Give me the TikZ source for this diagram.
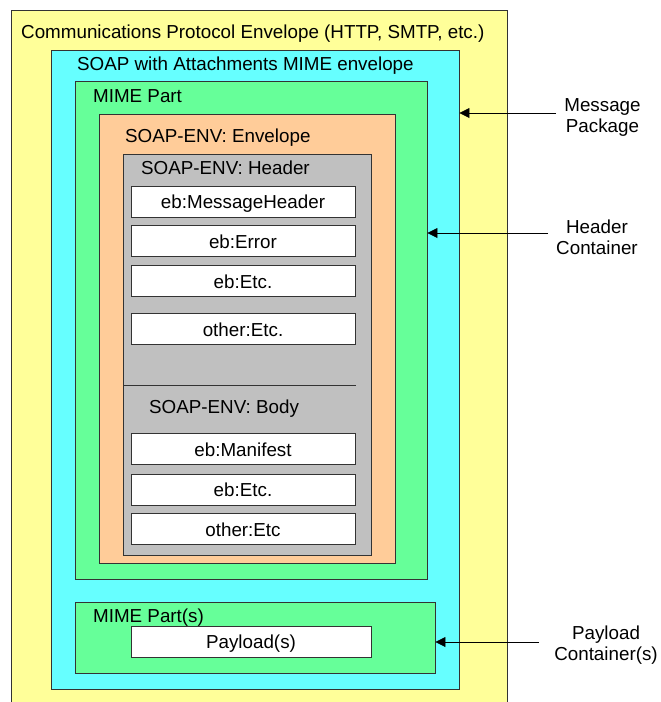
\documentclass[tikz,border=0pt]{standalone}
\usepackage{fontspec}
\setmainfont{Liberation Sans}
\usetikzlibrary{arrows.meta}

\definecolor{protoyellow}{HTML}{FFFF99}
\definecolor{mimecyan}{HTML}{66FFFF}
\definecolor{partgreen}{HTML}{66FF99}
\definecolor{envorange}{HTML}{FFCC99}
\definecolor{hdrgray}{HTML}{C0C0C0}

\begin{document}
\begin{tikzpicture}[
  x=1pt, y=-1pt,
  frame/.style={rectangle, draw=black!80, line width=0.9pt, inner sep=0pt},
  item/.style={frame, fill=white, minimum width=224pt, minimum height=31pt, font=\fontsize{18.8}{22}\selectfont, text height=14pt, text depth=0pt},
  title/.style={anchor=base west, inner sep=0pt, font=\fontsize{18.8}{22}\selectfont},
  arrow/.style={-{Triangle[length=10pt, width=10pt]}, line width=0.8pt},
  note/.style={align=center, font=\fontsize{18.8}{21.5}\selectfont},
]
\clip (0,0) rectangle (661,702);

% === NESTED ENVELOPES ===
\node[frame, fill=protoyellow, minimum width=496pt, minimum height=710pt] (proto) at (259,365) {};
\node[frame, fill=mimecyan, minimum width=408pt, minimum height=639pt] (swa) at (255,369.5) {};
\node[frame, fill=partgreen, minimum width=352pt, minimum height=498pt] (mime) at (251,330) {};
\node[frame, fill=envorange, minimum width=296pt, minimum height=449pt] (env) at (247,338.5) {};
\node[frame, fill=hdrgray, minimum width=248pt, minimum height=401pt] (hdr) at (247,354.5) {};
\node[frame, fill=partgreen, minimum width=360pt, minimum height=71pt] (parts) at (255,637.5) {};

% === TITLES ===
\node[title] (protot) at (21,38.3) {Communications Protocol Envelope (HTTP, SMTP, etc.)};
\node[title] (swat) at (77,70) {SOAP with Attachments MIME envelope};
\node[title] (mimet) at (93,102.3) {MIME Part};
\node[title] (envt) at (125,142) {SOAP-ENV: Envelope};
\node[title] (hdrt) at (141,174) {SOAP-ENV: Header};
\node[title] (bodyt) at (149,413) {SOAP-ENV: Body};
\node[title] (partst) at (93,622) {MIME Part(s)};

% === HEADER AND BODY ENTRIES ===
\node[item] (msghdr) at (243,201.5) {eb:MessageHeader};
\node[item] (error) at (243,241) {eb:Error};
\node[item] (hdretc) at (243,281) {eb:Etc.};
\node[item] (hdrother) at (243,329) {other:Etc.};

\coordinate (divl) at (123,385);
\coordinate (divr) at (356,385);
\draw[line width=0.8pt, black!80] (divl) -- (divr);

\node[item] (manifest) at (243,449) {eb:Manifest};
\node[item] (bodyetc) at (243,489.5) {eb:Etc.};
\node[item] (bodyother) at (243,529) {other:Etc};

\node[item, minimum width=240pt] (payload) at (251,641.5) {Payload(s)};

% === SIDE NOTES ===
\node[note] (pkg) at (602.5,117.5) {Message\\Package};
\node[note] (hc) at (597,237.5) {Header\\Container};
\node[note] (pc) at (606,645) {Payload\\Container(s)};

\coordinate (pkga) at (556,113);
\draw[arrow] (pkga) -- (pkga -| swa.east);
\coordinate (hca) at (548,233);
\draw[arrow] (hca) -- (hca -| mime.east);
\coordinate (pca) at (539,642);
\draw[arrow] (pca) -- (pca -| parts.east);
\end{tikzpicture}
\end{document}
